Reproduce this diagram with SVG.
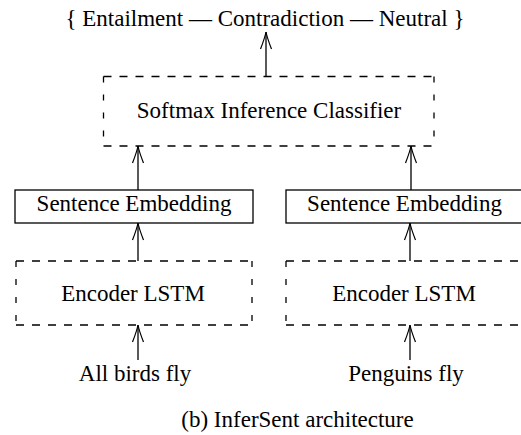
<svg xmlns="http://www.w3.org/2000/svg" width="521" height="435" viewBox="0 0 521 435">
<style>
text{font-family:'Liberation Serif','Times New Roman',Times,'Nimbus Roman','DejaVu Serif',serif;font-size:23px;fill:#000;text-anchor:middle}
.solid{fill:none;stroke:#000;stroke-width:1.3}
.dh{fill:none;stroke:#000;stroke-width:1.3;stroke-dasharray:8 8}
.dv{fill:none;stroke:#000;stroke-width:1.3;stroke-dasharray:6 12}
.ln{fill:none;stroke:#000;stroke-width:1.3}
</style>
<defs>
<path id="ah" d="M-5.5,17 Q-1.2,6 0,0 Q1.2,6 5.5,17" fill="none" stroke="#000" stroke-width="1.2"/>
</defs>
<rect width="521" height="435" fill="#fff"/>
<g font-family="'Liberation Serif', 'DejaVu Serif', serif">
<g id="output"><text x="265" y="26">{ Entailment — Contradiction — Neutral }</text></g>
<g id="softmax">
<path class="dh" d="M103.5,76.5H434M103.5,146H434"/>
<path class="dv" d="M103.5,76.5V146M434,76.5V146"/>
<text x="269" y="118">Softmax Inference Classifier</text>
</g>
<g id="emb1"><rect class="solid" x="15" y="190" width="238" height="33"/><text x="134" y="211">Sentence Embedding</text></g>
<g id="emb2"><rect class="solid" x="286" y="190" width="238" height="33"/><text x="404.5" y="211">Sentence Embedding</text></g>
<g id="enc1">
<path class="dh" d="M16,261H252M16,325H252"/>
<path class="dv" d="M16,261V325M252,261V325"/>
<text x="133" y="300.5">Encoder LSTM</text>
</g>
<g id="enc2">
<path class="dh" d="M286,261H524M286,325H524"/>
<path class="dv" d="M286,261V325M524,261V325"/>
<text x="404" y="300.5">Encoder LSTM</text>
</g>
<g id="in1"><text x="135" y="380.5">All birds fly</text></g>
<g id="in2"><text x="406" y="380.5">Penguins fly</text></g>
<g id="caption"><text x="297.5" y="427">(b) InferSent architecture</text></g>
</g>
<g id="connectors">
<path class="ln" d="M266,76.5V32"/><use href="#ah" x="266" y="32"/>
<path class="ln" d="M138,190V146"/><use href="#ah" x="138" y="146"/>
<path class="ln" d="M411,190V146"/><use href="#ah" x="411" y="146"/>
<path class="ln" d="M138,261V223"/><use href="#ah" x="138" y="223"/>
<path class="ln" d="M410,261V223"/><use href="#ah" x="410" y="223"/>
<path class="ln" d="M138,360V325"/><use href="#ah" x="138" y="325"/>
<path class="ln" d="M410,360V325"/><use href="#ah" x="410" y="325"/>
</g>
</svg>
